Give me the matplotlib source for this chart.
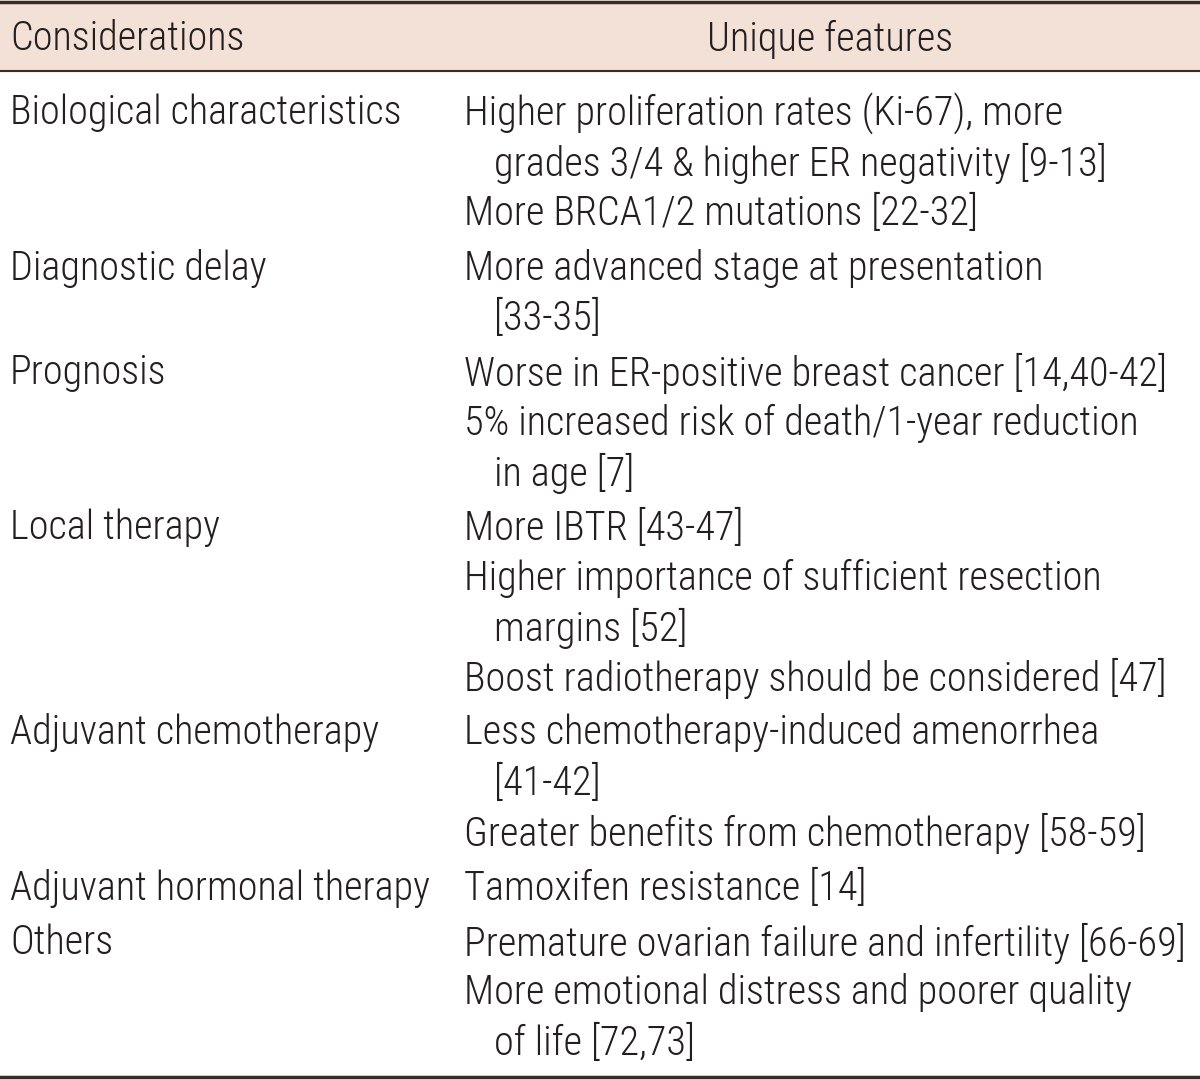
import matplotlib
matplotlib.use("Agg")
import matplotlib.pyplot as plt

# table content
headers = ["Considerations", "Unique features"]
considerations = [
    "Biological characteristics",
    "Diagnostic delay",
    "Prognosis",
    "Local therapy",
    "Adjuvant chemotherapy",
    "Adjuvant hormonal therapy",
    "Others",
]
# each feature is a list of wrapped lines
features = [
    [["Higher proliferation rates (Ki-67), more", "grades 3/4 & higher ER negativity [9-13]"],
     ["More BRCA1/2 mutations [22-32]"]],
    [["More advanced stage at presentation", "[33-35]"]],
    [["Worse in ER-positive breast cancer [14,40-42]"],
     ["5% increased risk of death/1-year reduction", "in age [7]"]],
    [["More IBTR [43-47]"],
     ["Higher importance of sufficient resection", "margins [52]"],
     ["Boost radiotherapy should be considered [47]"]],
    [["Less chemotherapy-induced amenorrhea", "[41-42]"],
     ["Greater benefits from chemotherapy [58-59]"]],
    [["Tamoxifen resistance [14]"]],
    [["Premature ovarian failure and infertility [66-69]"],
     ["More emotional distress and poorer quality", "of life [72,73]"]],
]

plt.rcParams['font.family'] = ['Roboto Condensed', 'Liberation Sans', 'DejaVu Sans']

fig = plt.figure(figsize=(12, 10.8), dpi=100)
ax = fig.add_axes([0, 0, 1, 1])
ax.set_xlim(0, 1200)
ax.set_ylim(1080, 0)
ax.axis("off")

fs = 29
wt = "light"
tc = "#231f20"
col1_x = 10
col2_x = 464
indent = 30
line_h = 50
row_gap = 5

# header band
ax.axhspan(1, 71, color="#f3e0d6", zorder=0)
ax.axhline(1.5, color="#3a2a26", lw=2.5)
ax.axhline(71, color="#3a2a26", lw=1.5)
ax.axhline(1077, color="#3a2a26", lw=2.5)
ax.text(col1_x, 39, headers[0], fontsize=fs, weight=wt, va="center", color=tc)
ax.text(830, 39, headers[1], fontsize=fs, weight=wt, va="center", ha="center", color=tc)

y = 113
for name, feats in zip(considerations, features):
    ax.text(col1_x, y, name, fontsize=fs, weight=wt, va="center", color=tc)
    for f in feats:
        for j, line in enumerate(f):
            x = col2_x if j == 0 else col2_x + indent
            ax.text(x, y, line, fontsize=fs, weight=wt, va="center", color=tc)
            y += line_h
    y += row_gap

fig.savefig("out.png", dpi=100)
